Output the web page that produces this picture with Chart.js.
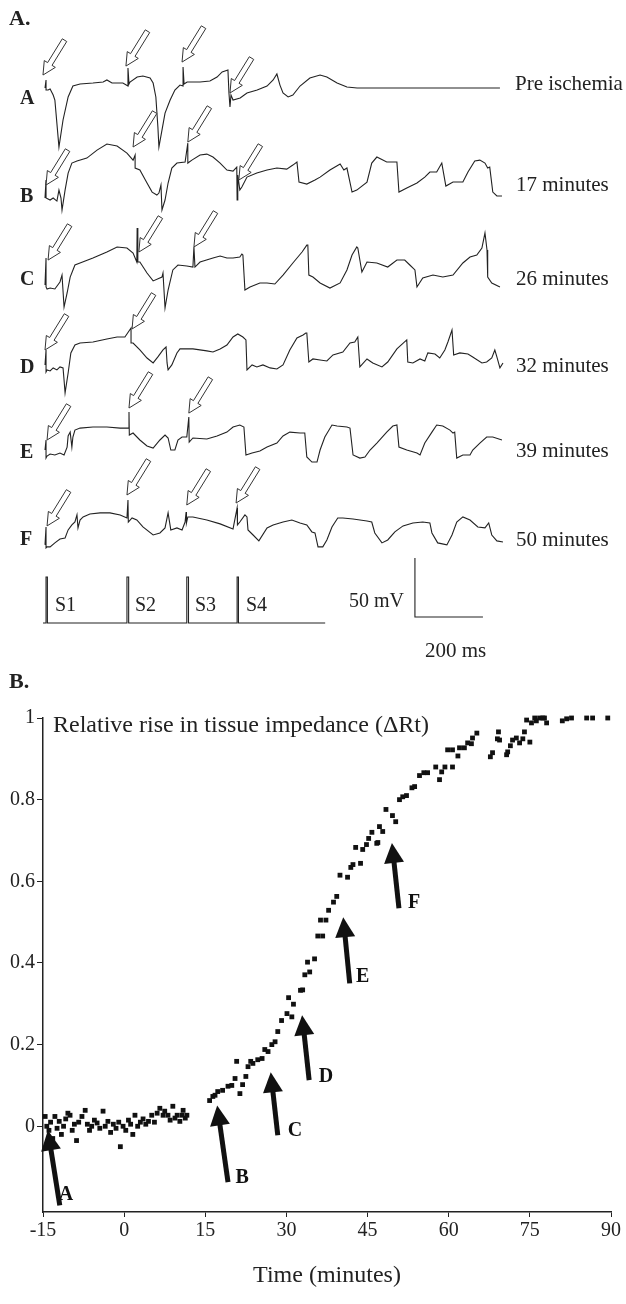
<!DOCTYPE html>
<html>
<head>
<meta charset="utf-8">
<script src="https://cdn.jsdelivr.net/npm/chart.js@4.4.0/dist/chart.umd.min.js"></script>
<style>
  body { margin: 0; background: #fff; width: 626px; height: 1304px; position: relative; overflow: hidden;
         font-family: "Liberation Serif", "Times New Roman", serif; color: #222; }
  canvas { position: absolute; left: 0; }
  #traces { top: 0px; }
  #impedance { top: 690px; }
  .lbl { position: absolute; white-space: nowrap; line-height: 1; }
  .b { font-weight: bold; }
</style>
</head>
<body>
<canvas id="traces" width="626" height="680"></canvas>
<canvas id="impedance" width="626" height="614"></canvas>

<div class="lbl b" style="left:9px;top:7px;font-size:22px">A.</div>
<div class="lbl b" style="left:20px;top:87px;font-size:20px">A</div>
<div class="lbl b" style="left:20px;top:185px;font-size:20px">B</div>
<div class="lbl b" style="left:20px;top:268px;font-size:20px">C</div>
<div class="lbl b" style="left:20px;top:356px;font-size:20px">D</div>
<div class="lbl b" style="left:20px;top:441px;font-size:20px">E</div>
<div class="lbl b" style="left:20px;top:528px;font-size:20px">F</div>
<div class="lbl" style="left:515px;top:73px;font-size:21px">Pre ischemia</div>
<div class="lbl" style="left:516px;top:174px;font-size:21px">17 minutes</div>
<div class="lbl" style="left:516px;top:268px;font-size:21px">26 minutes</div>
<div class="lbl" style="left:516px;top:355px;font-size:21px">32 minutes</div>
<div class="lbl" style="left:516px;top:440px;font-size:21px">39 minutes</div>
<div class="lbl" style="left:516px;top:529px;font-size:21px">50 minutes</div>
<div class="lbl" style="left:55px;top:594px;font-size:20px">S1</div>
<div class="lbl" style="left:135px;top:594px;font-size:20px">S2</div>
<div class="lbl" style="left:195px;top:594px;font-size:20px">S3</div>
<div class="lbl" style="left:246px;top:594px;font-size:20px">S4</div>
<div class="lbl" style="left:349px;top:590px;font-size:20px">50 mV</div>
<div class="lbl" style="left:425px;top:640px;font-size:21px">200 ms</div>
<div class="lbl b" style="left:9px;top:670px;font-size:22px">B.</div>
<div class="lbl" style="left:53px;top:712px;font-size:24px">Relative rise in tissue impedance (&Delta;Rt)</div>

<script>
// ---- panel A: action potential traces, [time ms, mV] ----
const preIschemia = [[0,0],[3,6.8],[3,-1.7],[9,-1.7],[15,-0.8],[24,-5.9],[29,-10.2],[41,-50],[53,-27.1],[68,-7.6],
  [82,1.7],[103,3.4],[141,4.2],[171,5.1],[182,6.8],[197,4.2],[229,4.2],[244,1.7],[244,16.9],[247,3.4],[250,5.1],
  [271,9.3],[288,10.2],[309,8.5],[318,4.2],[326,-7.6],[332,-33],[335,-50],[344,-35.6],[353,-21.2],[368,-10.2],
  [382,-1.7],[397,2.5],[406,1.7],[406,17.8],[409,3.4],[418,5.1],[456,5.1],[485,5.9],[506,9.3],[521,13.6],
  [538,15.2],[541,-4.2],[544,-16.1],[547,-5.9],[553,-10.2],[574,-8.5],[594,-4.2],[624,-1.7],[653,1.7],[671,6.8],
  [682,11.9],[691,2.5],[700,-4.2],[715,-7.6],[729,-5.9],[750,1.7],[779,8.5],[809,11],[829,9.3],[859,4.2],
  [888,0.8],[918,0],[1338,0]];
const min17 = [[0,-2.5],[3,12.7],[3,-2.5],[15,-4.2],[24,-2.5],[35,-5.1],[41,4.2],[47,-2.5],[50,-12.7],[59,4.2],
  [68,18.6],[79,27.1],[94,28.8],[123,31.3],[153,38.1],[182,43.2],[212,41.5],[241,35.6],[259,29.6],[265,33.9],
  [265,22.9],[279,21.2],[300,10.2],[315,2.5],[329,0],[335,1.7],[341,8.5],[344,-12.7],[353,-4.2],[362,10.2],
  [373,22.9],[388,27.1],[412,28],[420,44],[420,27.1],[432,29.6],[456,33.9],[476,34.7],[494,32.2],[515,27.1],
  [535,21.2],[553,20.3],[564,23.7],[565,-4.2],[567,16.9],[573,4.2],[579,6.8],[594,15.2],[623,18.6],[653,21.2],
  [682,22.9],[711,22],[729,25.4],[741,28],[747,11],[770,9.3],[794,12.7],[809,15.2],[838,21.2],[868,26.3],
  [879,21.2],[888,22.9],[903,2.5],[917,4.2],[947,11],[961,27.1],[976,32.2],[1005,28],[1035,28],[1041,2.5],
  [1064,5.9],[1094,10.2],[1117,15.2],[1132,19.5],[1152,19.5],[1167,27.1],[1179,7.6],[1200,11],[1229,11],
  [1244,19.5],[1264,28.8],[1279,29.6],[1294,27.1],[1302,22.9],[1308,23.7],[1317,2.5],[1329,-0.8],[1344,-0.8]];
const min26 = [[0,-4.2],[3,18.6],[3,-5.9],[6,-7.6],[15,-6.8],[29,-7.6],[44,-1.7],[50,4.2],[56,-22.9],[65,-11],
  [74,2.5],[88,12.7],[103,14.4],[141,18.6],[182,23.7],[212,28],[241,27.1],[259,22.9],[270,15.2],[271,44],
  [273,15.2],[279,15.2],[300,5.9],[318,-0.8],[344,2.5],[347,5.9],[353,-23.7],[362,-8.5],[376,8.5],[391,12.7],
  [417,11.9],[435,11],[438,28],[441,11],[456,15.2],[494,18.6],[515,20.3],[535,18.6],[553,18.6],[573,19.5],
  [579,22],[582,21.2],[588,-8.5],[603,-5.9],[632,-2.5],[653,-2.5],[676,-3.4],[700,4.2],[729,14.4],[756,23.7],
  [770,29.6],[773,29.6],[776,4.2],[788,2.5],[809,-2.5],[838,-6.8],[868,-2.5],[888,8.5],[903,21.2],[917,28],
  [920,27.1],[932,6.8],[947,15.2],[976,14.4],[1008,11],[1035,16.9],[1058,16.9],[1073,12.7],[1088,8.5],
  [1094,-5.9],[1111,1.7],[1141,4.2],[1170,2.5],[1200,4.2],[1229,14.4],[1250,19.5],[1270,21.2],[1285,27.1],
  [1294,39.8],[1300,25.4],[1302,2.5],[1314,-2.5],[1338,-5.9]];
const min32 = [[0,0],[3,12.7],[3,-5.9],[6,-4.2],[15,-5.1],[24,-2.5],[35,-4.2],[44,-1.7],[53,-2.5],[56,-12.7],
  [59,-23.7],[68,-6.8],[76,10.2],[88,16.9],[103,18.6],[141,19.5],[182,22],[212,23.7],[235,23.7],[253,31.3],
  [253,18.6],[259,18.6],[279,12.7],[300,5.9],[318,1.7],[332,6.8],[347,12.7],[356,15.2],[359,1.7],[362,-4.2],
  [373,0],[388,10.2],[397,13.6],[435,13.6],[476,11.9],[494,11],[515,13.6],[535,16.9],[553,23.7],[567,26.3],
  [582,23.7],[591,21.2],[594,-4.2],[609,0],[623,-1.7],[641,0],[662,-2.5],[682,-3.4],[700,0],[720,12.7],
  [741,22.9],[759,25.4],[767,27.1],[770,27.1],[776,2.5],[788,5.1],[809,4.2],[829,3.4],[847,8.5],[876,11],
  [897,18.6],[911,19.5],[920,23.7],[926,-1.7],[947,5.1],[964,1.7],[991,-1.7],[1008,2.5],[1035,13.6],
  [1064,21.2],[1067,2.5],[1082,1.7],[1103,5.1],[1117,3.4],[1126,10.2],[1147,9.3],[1161,5.9],[1176,12.7],
  [1185,19.5],[1197,29.6],[1202,8.5],[1220,10.2],[1244,9.3],[1258,6.8],[1285,1.7],[1299,2.5],[1314,5.9],
  [1323,12.7],[1329,6.8],[1338,-2.5],[1347,1.7]];
const min39 = [[0,0],[3,8.5],[3,-6.8],[6,-5.1],[15,-3.4],[29,-4.2],[44,-2.5],[56,-4.2],[65,2.5],[68,11.9],
  [74,15.2],[79,2.5],[82,11],[88,16.9],[103,18.6],[141,19.5],[182,19.5],[221,18.6],[247,18.6],[247,32.2],
  [248,12.7],[259,14.4],[279,8.5],[300,3.4],[318,1.7],[338,8.5],[353,12.7],[362,10.2],[370,0],[382,0],
  [391,8.5],[403,11],[417,11],[423,28],[424,6.8],[435,10.2],[476,9.3],[506,11.9],[535,15.2],[553,19.5],
  [573,21.2],[585,19.5],[591,-4.2],[609,-2.5],[632,-0.8],[653,2.5],[682,5.9],[700,11.9],[720,15.2],[750,14.4],
  [764,14.4],[770,-5.9],[785,-10.2],[800,-10.2],[809,0],[823,11],[844,21.2],[859,20.3],[888,19.5],[897,18.6],
  [906,-4.2],[926,-6.8],[941,-5.9],[956,0],[976,5.9],[1005,15.2],[1023,20.3],[1035,21.2],[1041,2.5],[1064,0],
  [1094,-2.5],[1103,-4.2],[1117,5.9],[1138,15.2],[1152,21.2],[1170,20.3],[1191,16.9],[1200,14.4],[1205,15.2],
  [1211,-6.8],[1229,-4.2],[1250,-4.2],[1258,0],[1279,5.9],[1299,11],[1317,11],[1344,8.5]];
const min50 = [[0,-4.2],[3,11],[3,-6.8],[6,-5.9],[15,-5.9],[29,-2.5],[44,0.8],[59,1.7],[68,8.5],[79,12.7],
  [88,15.2],[94,21.2],[97,10.2],[103,16.9],[112,19.5],[132,22],[162,22.9],[191,22.9],[221,21.2],[241,18.6],
  [244,33.9],[245,15.2],[256,18.6],[270,16.9],[288,11],[318,4.2],[338,5.9],[353,10.2],[362,22.9],[370,8.5],
  [388,10.2],[403,8.5],[412,15.2],[415,23.7],[416,14.4],[420,19.5],[435,19.5],[476,16.9],[515,13.6],[553,9.3],
  [565,27.1],[566,12.7],[573,15.2],[588,21.2],[594,19.5],[597,8.5],[612,4.2],[629,-0.8],[653,10.2],[671,12.7],
  [700,15.2],[726,16.9],[750,14.4],[770,12.7],[785,6.8],[794,5.9],[803,-5.9],[817,-5.9],[829,0],[844,11],
  [861,18.6],[876,18.6],[906,17.8],[947,16.1],[961,15.2],[970,5.9],[991,-2.5],[1008,0],[1029,6.8],[1053,11.9],
  [1082,14.4],[1111,15.2],[1132,14.4],[1138,5.9],[1155,-2.5],[1182,-4.2],[1197,4.2],[1211,15.2],[1229,19.5],
  [1250,16.9],[1273,11],[1294,10.2],[1305,14.4],[1314,4.2],[1329,-0.8],[1347,-1.7]];
const stimulus = [[-6,0],[3,0],[3,39],[7,39],[7,0],[241,0],[241,39],[246,39],[246,0],[417,0],[417,39],[422,39],
  [422,0],[565,0],[565,39],[569,39],[569,0],[824,0]];
// stimulus artefact arrows, [time ms, mV] of tip
const arrowsPre = [[-6,11],[238,18.6],[403,22],[544,-4.2]];
const arrows17 = [[3,8.5],[259,40.7],[420,44.9],[570,12.7]];
const arrows26 = [[9,16.9],[276,23.7],[438,28]];
const arrows32 = [[0,12.7],[256,30.5]];
const arrows39 = [[6,8.5],[247,35.6],[423,31.3]];
const arrows50 = [[6,11.9],[241,38.1],[417,29.6],[562,31.3]];
const scaleBarMs = 200, scaleBarMv = 50;

// ---- panel B: relative rise in tissue impedance ----
const minutes = [-14.6,-14.3,-13.9,-13.6,-13.2,-12.8,-12.4,-12.0,-11.6,-11.2,-10.8,-10.4,-10.0,-9.6,-9.2,-8.8,-8.4,
  -7.8,-7.2,-6.8,-6.4,-6.0,-5.5,-5.0,-4.5,-3.9,-3.5,-3.0,-2.5,-2.0,-1.5,-1.0,-0.7,-0.2,0.3,0.8,1.2,1.6,2.0,2.5,
  3.0,3.5,4.0,4.5,5.1,5.6,6.1,6.6,7.2,7.5,8.1,8.5,9.0,9.4,9.8,10.3,10.7,10.9,11.3,11.6,
  15.8,16.4,16.8,17.3,18.2,19.2,19.9,20.5,20.8,21.4,21.9,22.5,22.9,23.4,23.8,24.7,25.5,26.0,26.6,27.3,27.9,
  28.4,29.1,30.1,30.4,31.0,31.3,32.6,33.0,33.4,33.9,34.3,35.2,35.8,36.3,36.7,37.3,37.8,38.7,39.3,39.9,41.3,
  41.9,42.3,42.8,43.7,44.1,44.8,45.2,45.8,46.7,46.9,47.2,47.8,48.4,49.6,50.2,50.9,51.5,52.2,53.2,53.7,54.6,
  55.4,56.1,57.6,58.3,58.7,59.3,59.8,60.7,60.7,61.7,62.0,62.9,63.5,64.2,64.4,65.2,67.7,68.1,69.0,69.2,69.4,
  70.7,70.9,71.4,71.8,72.5,73.1,73.7,74.0,74.4,75.0,75.3,75.9,76.2,76.8,77.4,77.7,78.1,81.0,81.8,82.7,85.5,
  86.6,89.4];
const impedance = [0.024,0.0,-0.01,0.01,-0.03,0.024,-0.005,0.012,-0.02,0.0,0.018,0.032,0.027,-0.01,0.005,-0.035,
  0.01,0.024,0.039,0.005,-0.01,0.0,0.015,0.008,-0.005,0.037,0.0,0.012,-0.015,0.005,-0.005,0.01,-0.05,0.0,-0.01,
  0.015,0.005,-0.02,0.027,0.0,0.01,0.018,0.005,0.012,0.027,0.01,0.032,0.044,0.027,0.037,0.027,0.015,0.049,0.02,
  0.027,0.012,0.027,0.039,0.02,0.027,
  0.063,0.073,0.076,0.085,0.088,0.098,0.100,0.117,0.159,0.080,0.102,0.122,0.146,0.159,0.154,0.163,0.166,0.188,
  0.183,0.200,0.207,0.232,0.259,0.276,0.315,0.268,0.299,0.333,0.334,0.371,0.402,0.378,0.410,0.466,0.505,0.466,
  0.505,0.529,0.549,0.563,0.615,0.610,0.634,0.641,0.683,0.644,0.678,0.690,0.705,0.720,0.693,0.695,0.734,0.722,
  0.776,0.761,0.746,0.800,0.807,0.810,0.829,0.832,0.859,0.866,0.866,0.880,0.849,0.868,0.880,0.922,0.922,0.880,
  0.907,0.927,0.927,0.939,0.937,0.951,0.963,0.905,0.915,0.949,0.966,0.946,0.910,0.917,0.932,0.946,0.951,0.939,
  0.949,0.966,0.995,0.941,0.988,1.0,0.993,1.0,1.0,1.0,0.988,0.993,0.998,1.0,1.0,1.0,1.0];
const yTicks = [0, 0.2, 0.4, 0.6, 0.8, 1];
const xTicks = [-15, 0, 15, 30, 45, 60, 75, 90];
// time-point markers: label, tip [min, value], tail [min, value], label position
const markers = [
  ['A', [-14.1,-0.01], [-11.9,-0.194], [-10.75,-0.169]],
  ['B', [17.2,0.051], [19.2,-0.137], [21.8,-0.127]],
  ['C', [27.1,0.132], [28.4,-0.022], [31.6,-0.010]],
  ['D', [32.9,0.272], [34.2,0.113], [37.3,0.120]],
  ['E', [40.5,0.512], [41.7,0.350], [44.1,0.365]],
  ['F', [49.5,0.694], [50.8,0.534], [53.6,0.547]]
];

const serif = '"Liberation Serif", "Times New Roman", serif';
const ink = '#222';

// rows of panel A: trace, arrows, vertical offset (mV, from top of panel)
const rows = [
  { trace: preIschemia, arrows: arrowsPre, offset: -74.6 },
  { trace: min17, arrows: arrows17, offset: -165.3 },
  { trace: min26, arrows: arrows26, offset: -237.3 },
  { trace: min32, arrows: arrows32, offset: -309.3 },
  { trace: min39, arrows: arrows39, offset: -381.4 },
  { trace: min50, arrows: arrows50, offset: -457.6 }
];
const stimOffset = -528, barOffset = -522.9, barStart = 1088;

const hollowArrows = {
  id: 'hollowArrows',
  afterDatasetsDraw(chart) {
    const {ctx, scales: {x, y}} = chart;
    const ux = 21 / Math.hypot(21, 34), uy = -34 / Math.hypot(21, 34);
    const nx = -uy, ny = ux;
    ctx.save();
    ctx.fillStyle = '#fff';
    ctx.strokeStyle = '#333';
    ctx.lineWidth = 1;
    rows.forEach(r => r.arrows.forEach(([t, v]) => {
      const px = x.getPixelForValue(t), py = y.getPixelForValue(v + r.offset);
      const pt = (a, b) => [px + ux * a + nx * b, py + uy * a + ny * b];
      const pts = [pt(0, 0), pt(13, 6.5), pt(13, 2.6), pt(41, 2.6), pt(41, -2.6), pt(13, -2.6), pt(13, -6.5)];
      ctx.beginPath();
      pts.forEach(([a, b], i) => i ? ctx.lineTo(a, b) : ctx.moveTo(a, b));
      ctx.closePath();
      ctx.fill();
      ctx.stroke();
    }));
    ctx.restore();
  }
};

const lineSet = (data, offset) => ({
  data: data.map(([t, v]) => ({ x: t, y: v + offset })),
  showLine: true, pointRadius: 0, borderColor: ink, borderWidth: 1.1, tension: 0
});

new Chart(document.getElementById('traces'), {
  type: 'scatter',
  data: {
    datasets: [
      ...rows.map(r => lineSet(r.trace, r.offset)),
      lineSet(stimulus, stimOffset),
      lineSet([[barStart, scaleBarMv], [barStart, 0], [barStart + scaleBarMs, 0]], barOffset)
    ]
  },
  options: {
    responsive: false, animation: false, events: [],
    layout: { padding: 0 },
    plugins: { legend: { display: false }, tooltip: { enabled: false } },
    scales: {
      x: { type: 'linear', display: false, min: -132.4, max: 1708.8 },
      y: { type: 'linear', display: false, min: -576.3, max: 0 }
    }
  },
  plugins: [hollowArrows]
});

const markerArrows = {
  id: 'markerArrows',
  afterDatasetsDraw(chart) {
    const {ctx, scales: {x, y}} = chart;
    ctx.save();
    ctx.fillStyle = '#111';
    ctx.strokeStyle = '#111';
    markers.forEach(([name, tip, tail, pos]) => {
      const tx = x.getPixelForValue(tip[0]), ty = y.getPixelForValue(tip[1]);
      const bx = x.getPixelForValue(tail[0]), by = y.getPixelForValue(tail[1]);
      const len = Math.hypot(bx - tx, by - ty);
      const ux = (bx - tx) / len, uy = (by - ty) / len;
      const nx = -uy, ny = ux;
      ctx.lineWidth = 5;
      ctx.beginPath();
      ctx.moveTo(tx + ux * 15, ty + uy * 15);
      ctx.lineTo(bx, by);
      ctx.stroke();
      ctx.beginPath();
      ctx.moveTo(tx, ty);
      ctx.lineTo(tx + ux * 20 + nx * 10, ty + uy * 20 + ny * 10);
      ctx.lineTo(tx + ux * 20 - nx * 10, ty + uy * 20 - ny * 10);
      ctx.closePath();
      ctx.fill();
      ctx.font = 'bold 20px ' + serif;
      ctx.textAlign = 'center';
      ctx.textBaseline = 'middle';
      ctx.fillText(name, x.getPixelForValue(pos[0]), y.getPixelForValue(pos[1]));
    });
    ctx.restore();
  }
};

new Chart(document.getElementById('impedance'), {
  type: 'scatter',
  data: {
    datasets: [{
      data: minutes.map((t, i) => ({ x: t, y: impedance[i] })),
      pointStyle: 'rect', pointRadius: 3.4, backgroundColor: '#111', borderWidth: 0, clip: false
    }]
  },
  options: {
    responsive: false, animation: false, events: [],
    layout: { padding: { top: 28, right: 15, left: 0, bottom: 0 } },
    plugins: { legend: { display: false }, tooltip: { enabled: false } },
    scales: {
      x: {
        type: 'linear', min: -15, max: 90,
        afterBuildTicks: s => { s.ticks = xTicks.map(v => ({ value: v })); },
        afterFit: s => { s.height = 92; },
        ticks: { color: ink, font: { family: serif, size: 20 }, padding: 2, maxRotation: 0, callback: v => String(v) },
        grid: { drawOnChartArea: false, color: ink, tickLength: 5 },
        border: { color: ink, width: 1.5 },
        title: { display: true, text: 'Time (minutes)', color: ink, font: { family: serif, size: 24 },
                 padding: { top: 0, bottom: 14 } }
      },
      y: {
        type: 'linear', min: -0.21, max: 1,
        afterBuildTicks: s => { s.ticks = yTicks.map(v => ({ value: v })); },
        afterFit: s => { s.width = 43; },
        ticks: { color: ink, font: { family: serif, size: 20 }, padding: 2, callback: v => String(v) },
        grid: { drawOnChartArea: false, color: ink, tickLength: 6 },
        border: { color: ink, width: 1.5 }
      }
    }
  },
  plugins: [markerArrows]
});
</script>
</body>
</html>
